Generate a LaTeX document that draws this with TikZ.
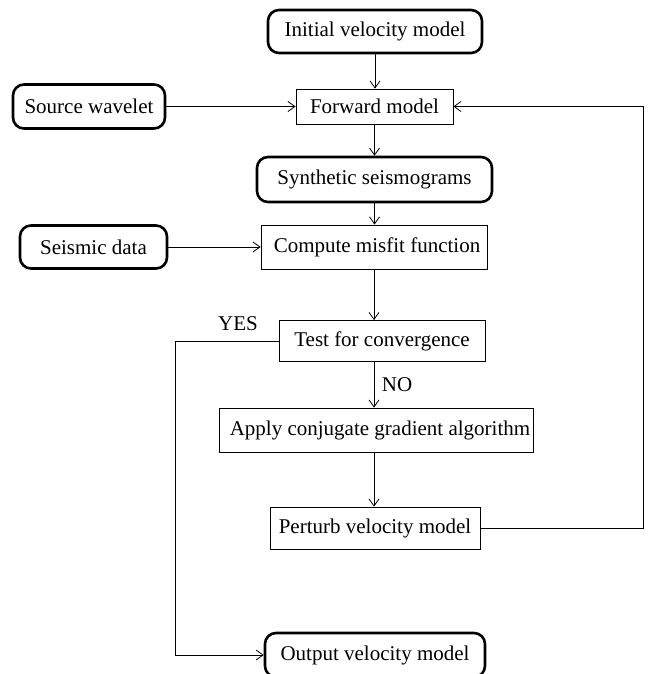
\documentclass[tikz,border=0pt]{standalone}
\usepackage{fontspec}
\setmainfont{Liberation Serif}
\usetikzlibrary{arrows.meta}
\begin{document}
\begin{tikzpicture}[x=1pt,y=-1pt,
  every node/.style={font=\fontsize{21}{24}\selectfont, inner sep=0pt},
  term/.style={draw, line width=2.6pt, rounded corners=11pt},
  proc/.style={draw, line width=0.8pt},
  conn/.style={draw, line width=0.8pt},
  arr/.style={conn, -{Straight Barb[length=7pt,width=10pt,line width=0.8pt]}}]
\useasboundingbox (0,0) rectangle (649,674);
\node[term, minimum width=214pt, minimum height=43pt] (init) at (375,31.5) {Initial velocity model};
\node[proc, minimum width=157pt, minimum height=35pt] (fwd) at (374.5,106.5) {Forward model};
\node[term, minimum width=152pt, minimum height=44pt] (src) at (89,106.5) {Source wavelet};
\node[term, minimum width=235pt, minimum height=45pt] (syn) at (374.5,179.5) {Synthetic seismograms};
\node[term, minimum width=147pt, minimum height=43pt] (seis) at (93.5,247) {Seismic data};
\node[proc, minimum width=226pt, minimum height=44pt] (comp) at (374,247) {\hspace*{6pt}Compute misfit function};
\node[proc, minimum width=206pt, minimum height=41pt] (test) at (382,341) {Test for convergence};
\node[proc, minimum width=314pt, minimum height=44pt] (apply) at (376,430) {\hspace*{8pt}Apply conjugate gradient algorithm};
\node[proc, minimum width=210pt, minimum height=42pt] (pert) at (375,528) {Perturb velocity model};
\node[term, minimum width=220pt, minimum height=44pt] (out) at (375,655) {Output velocity model};
\node (yes) at (238,324) {YES};
\node (no) at (397,385) {NO};
\coordinate (rc) at (643,528);
\coordinate (lc) at (175,341);
\draw[arr] (init.south) -- (fwd.north -| init.south);
\draw[arr] (src.east) -- (fwd.west);
\draw[arr] (fwd.south) -- (syn.north -| fwd.south);
\draw[arr] (syn.south) -- (comp.north -| syn.south);
\draw[arr] (seis.east) -- (comp.west);
\draw[arr] (comp.south) -- (test.north -| comp.south);
\draw[arr] (test.south -| comp.south) -- (apply.north -| comp.south);
\draw[arr] (apply.south -| comp.south) -- (pert.north -| comp.south);
\draw[arr] (pert.east) -- (rc) |- (fwd.east);
\draw[arr] (test.west) -- (lc) |- (out.west);
\end{tikzpicture}
\end{document}
